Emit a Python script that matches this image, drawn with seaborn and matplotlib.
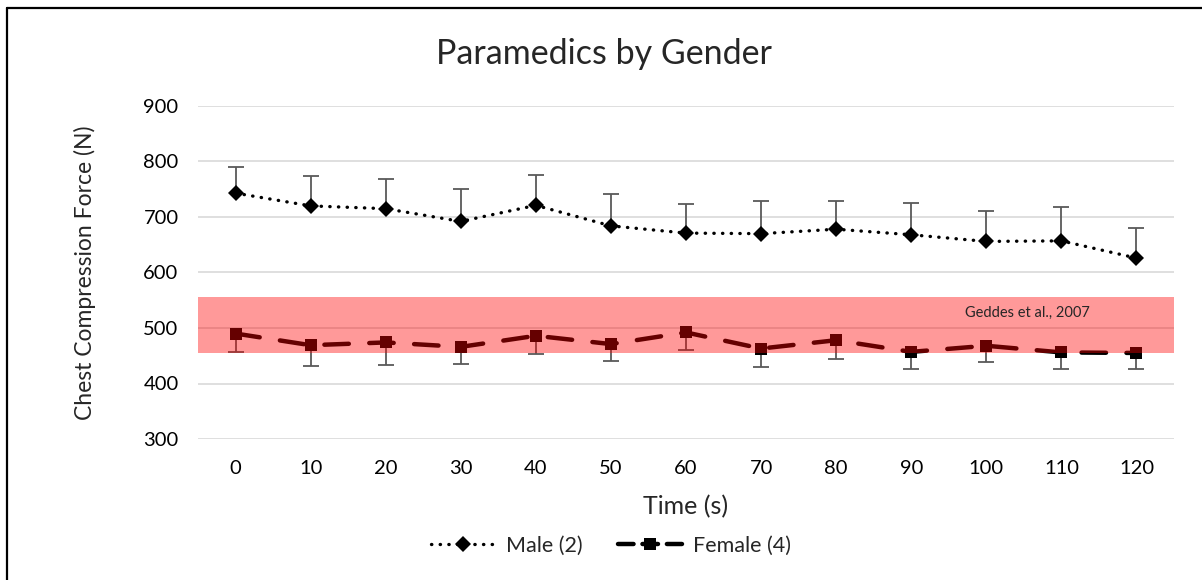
import numpy as np
import pandas as pd
import matplotlib
matplotlib.use("Agg")
import matplotlib.pyplot as plt
from matplotlib.lines import Line2D
import seaborn as sns

# ---- data ----
times = [0, 10, 20, 30, 40, 50, 60, 70, 80, 90, 100, 110, 120]
male = [743, 720, 715, 692, 721, 684, 671, 670, 678, 668, 656, 657, 626]
male_err_up = [47, 54, 53, 59, 55, 57, 52, 59, 51, 57, 55, 61, 55]
female = [490, 469, 474, 466, 486, 471, 492, 463, 478, 457, 468, 456, 455]
female_err_down = [34, 38, 41, 31, 33, 30, 32, 33, 33, 30, 30, 29, 29]
band_low, band_high = 455, 555
band_label = "Geddes et al., 2007"
title = "Paramedics by Gender"
xlabel = "Time (s)"
ylabel = "Chest Compression Force (N)"
labels = ["Male (2)", "Female (4)"]

sns.set_style("white")
plt.rcParams['font.family'] = ['Lato', 'DejaVu Sans']

fig = plt.figure(figsize=(12.02, 5.80), dpi=100)
ax = fig.add_axes([198/1202, 1-439/580, 976/1202, (439-106)/580])

idx = np.arange(len(times))
df = pd.DataFrame({"idx": idx, "male": male, "female": female})

ecol = "#595959"
# error bars (male: upper only, female: lower only)
eb = ax.errorbar(idx, male, yerr=[np.zeros(len(male)), male_err_up], fmt='none',
                 ecolor=ecol, elinewidth=1.3, capsize=5.5, capthick=1.3, zorder=2)
eb[1][0].set_visible(False)
eb2 = ax.errorbar(idx, female, yerr=[female_err_down, np.zeros(len(female))], fmt='none',
                  ecolor=ecol, elinewidth=1.3, capsize=5.5, capthick=1.3, zorder=2)
eb2[1][1].set_visible(False)

male_ls = (0, (0.1, 2.5))
female_ls = (0, (5.5, 4.6))
sns.lineplot(data=df, x="idx", y="male", ax=ax, color="black", marker="D",
             markersize=8.5, linewidth=2.4, linestyle=male_ls,
             dash_capstyle='round', markeredgewidth=0, zorder=3)
sns.lineplot(data=df, x="idx", y="female", ax=ax, color="black", marker="s",
             markersize=8.5, linewidth=3.2, linestyle=female_ls,
             dash_capstyle='round', markeredgewidth=0, zorder=3)

# band on top (translucent)
ax.axhspan(band_low, band_high, color="#FF0000", alpha=0.4, lw=0, zorder=5)
ax.text(idx[-1] - 1.45, band_high - 27, band_label, fontsize=10.5, color="#262626",
        ha="center", va="center", zorder=6)

ax.set_xlim(-0.5, len(times) - 0.5)
ax.set_ylim(300, 900)
ax.set_yticks([300, 400, 500, 600, 700, 800, 900])
ax.set_xticks(idx)
ax.set_xticklabels([str(t) for t in times])
ax.yaxis.grid(True, color="#d9d9d9", lw=1.2, zorder=0)
ax.xaxis.grid(False)
ax.set_axisbelow(True)
for s in ax.spines.values():
    s.set_visible(False)
ax.tick_params(axis='both', length=0, labelsize=14.5, colors="black")
ax.tick_params(axis='y', pad=14)
ax.tick_params(axis='x', pad=15)
ax.set_xlabel(xlabel, fontsize=18, va="center")
ax.xaxis.set_label_coords(0.5, (439-507)/333)
ax.set_ylabel(ylabel, fontsize=16.5, va="center")
ax.yaxis.set_label_coords((85-198)/976, 0.5)
fig.suptitle(title, x=604/1202, y=1-54/580, va="center", fontsize=24.5)

handles = [
    Line2D([], [], color="black", marker="D", markersize=8.5, linewidth=2.4,
           linestyle=male_ls, dash_capstyle='round', markeredgewidth=0),
    Line2D([], [], color="black", marker="s", markersize=8.5, linewidth=3.2,
           linestyle=(0, (3.5, 2.0)), dash_capstyle='round', markeredgewidth=0),
]
fig.legend(handles, labels, loc="center", bbox_to_anchor=(611/1202, 1-546/580),
           ncol=2, frameon=False, fontsize=15.5, handlelength=3.0, columnspacing=1.6,
           handletextpad=0.5)

# outer frame (top and left edges visible)
fig.add_artist(Line2D([7/1202, 7/1202], [0, 1-8/580], transform=fig.transFigure,
                      color="black", lw=1.6))
fig.add_artist(Line2D([7/1202, 1], [1-8/580, 1-8/580], transform=fig.transFigure,
                      color="black", lw=1.6))

fig.savefig("out.png", dpi=100, facecolor="white")
